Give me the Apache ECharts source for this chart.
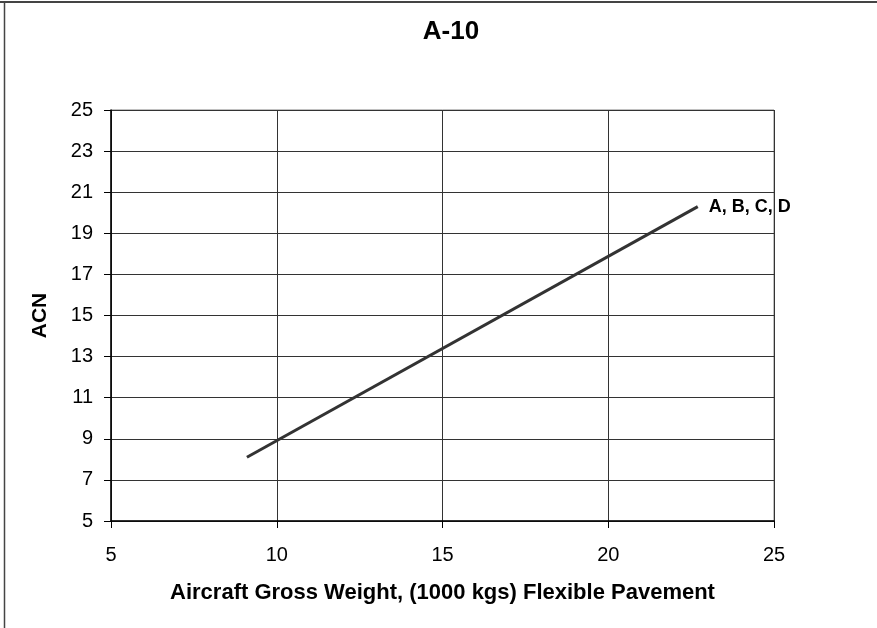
<!DOCTYPE html>
<html>
<head>
<meta charset="utf-8">
<script src="https://cdn.jsdelivr.net/npm/echarts@6/dist/echarts.min.js"></script>
<style>
  html, body { margin: 0; padding: 0; background: #fff; }
  #chart { width: 877px; height: 628px; }
</style>
</head>
<body>
<div id="chart"></div>
<script>
// data
var weights = [9.1, 22.7];   // 1000 kgs
var acn = [8.1, 20.3];
var seriesLabel = 'A, B, C, D';

var chart = echarts.init(document.getElementById('chart'));
var lineData = weights.map(function (w, i) { return [w, acn[i]]; });

var option = {
    animation: false,
    title: {
        text: 'A-10',
        left: 446,
        textAlign: 'center',
        top: 14,
        textStyle: { fontFamily: 'Liberation Sans', fontSize: 26, fontWeight: 'bold', color: '#000' }
    },
    grid: { left: 111, right: 103, top: 110, bottom: 107, show: true, borderColor: '#808080', borderWidth: 1 },
    graphic: [
        { type: 'line', shape: { x1: 0, y1: 2, x2: 877, y2: 2 }, style: { stroke: '#444', lineWidth: 2 } },
        { type: 'line', shape: { x1: 4.5, y1: 2, x2: 4.5, y2: 628 }, style: { stroke: '#444', lineWidth: 1.5 } }
    ],
    xAxis: {
        type: 'value',
        min: 5, max: 25, interval: 5,
        name: 'Aircraft Gross Weight, (1000 kgs) Flexible Pavement',
        nameLocation: 'middle',
        nameGap: 61,
        nameTextStyle: { fontFamily: 'Liberation Sans', fontSize: 22, fontWeight: 'bold', color: '#000' },
        axisLine: { lineStyle: { color: '#000', width: 1.5 } },
        axisTick: { show: true, inside: false, length: 7, lineStyle: { color: '#000' } },
        axisLabel: { fontFamily: 'Liberation Sans', fontSize: 20, color: '#000', margin: 24 },
        splitLine: { show: true, lineStyle: { color: '#333', width: 1 } }
    },
    yAxis: {
        type: 'value',
        min: 5, max: 25, interval: 2,
        name: 'ACN',
        nameLocation: 'middle',
        nameGap: 60,
        nameRotate: 90,
        nameTextStyle: { fontFamily: 'Liberation Sans', fontSize: 21, fontWeight: 'bold', color: '#000' },
        axisLine: { show: true, lineStyle: { color: '#000', width: 1.5 } },
        axisTick: { show: true, inside: false, length: 7, lineStyle: { color: '#000' } },
        axisLabel: { fontFamily: 'Liberation Sans', fontSize: 20, color: '#000', margin: 18 },
        splitLine: { show: true, lineStyle: { color: '#333', width: 1 } }
    },
    series: [{
        name: seriesLabel,
        type: 'line',
        data: lineData,
        symbol: 'none',
        lineStyle: { color: '#333', width: 3 },
        endLabel: {
            show: true,
            formatter: seriesLabel,
            distance: 11,
            offset: [0, 0],
            fontFamily: 'Liberation Sans',
            fontSize: 18,
            fontWeight: 'bold',
            color: '#000'
        }
    }]
};
chart.setOption(option);
</script>
</body>
</html>
